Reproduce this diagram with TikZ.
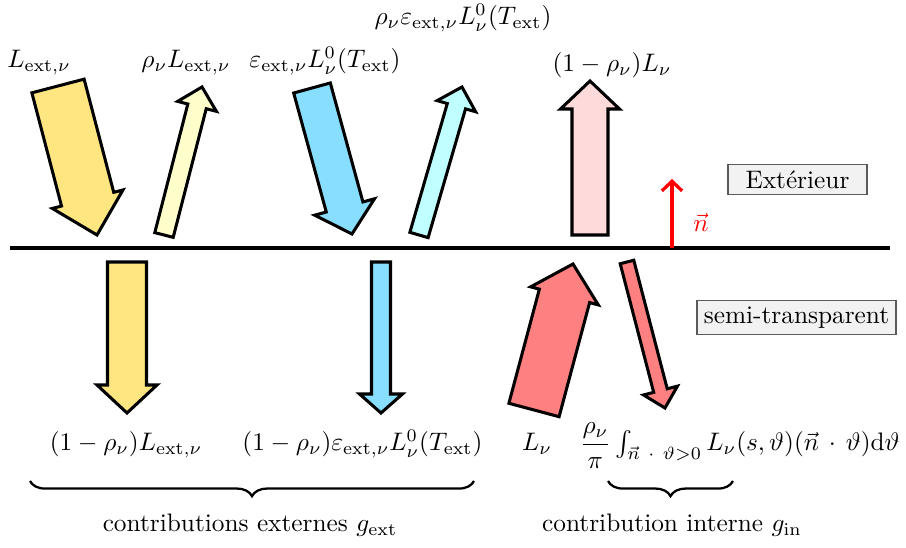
\documentclass[tikz,border=0pt]{standalone}
\usepackage{amsmath}
\usetikzlibrary{calc,decorations.pathreplacing,arrows.meta}
\definecolor{ylw}{RGB}{255,230,128}
\definecolor{pylw}{RGB}{255,255,204}
\definecolor{blu}{RGB}{135,222,255}
\definecolor{cyn}{RGB}{192,255,255}
\definecolor{pnk}{RGB}{255,218,218}
\definecolor{redf}{RGB}{255,128,128}
\definecolor{boxfill}{RGB}{242,242,242}
\definecolor{boxline}{RGB}{90,90,90}
\tikzset{
  bigarrow/.style={draw=black,line width=1.2pt,line join=miter,miter limit=10},
  lbl/.style={anchor=base,inner sep=0pt},
  lbox/.style={draw=boxline,fill=boxfill,line width=0.5pt,inner sep=0pt},
  brc/.style={decorate,decoration={brace,mirror,amplitude=6pt},line width=0.9pt}
}
\newcommand\fatarr[6]{%
  \pgfmathsetmacro\fas{#3*0.1975}%
  \pgfmathsetmacro\fah{#4*0.1975}%
  \pgfmathsetmacro\fal{#5*0.395}%
  \coordinate (fH) at ($(#2)!\fal pt!(#1)$);
  \draw[bigarrow,fill=#6] ($(#1)!\fas pt!90:(#2)$) -- ($(fH)!\fas pt!90:(#2)$) -- ($(fH)!\fah pt!90:(#2)$) -- (#2) -- ($(fH)!\fah pt!-90:(#2)$) -- ($(fH)!\fas pt!-90:(#2)$) -- ($(#1)!\fas pt!-90:(#2)$) -- cycle;
}
\begin{document}
\begin{tikzpicture}[x=0.395pt,y=-0.395pt]
\useasboundingbox (0,0) rectangle (906,548);
% interface
\coordinate (il) at (10,248);
\coordinate (ir) at (890,248);
\draw[line width=1.2pt] (il) -- (ir);
% arrows above
\coordinate (a1t) at (58,86);   \coordinate (a1h) at (97,235);
\coordinate (a2t) at (164,235); \coordinate (a2h) at (202,87);
\coordinate (a3t) at (312,88);  \coordinate (a3h) at (352,234);
\coordinate (a4t) at (419,235); \coordinate (a4h) at (462,87);
\coordinate (a5t) at (590,235); \coordinate (a5h) at (590,81);
\fatarr{a1t}{a1h}{54}{73}{37}{ylw}
\fatarr{a2t}{a2h}{19}{40}{20}{pylw}
\fatarr{a3t}{a3h}{38}{62}{28}{blu}
\fatarr{a4t}{a4h}{19}{40}{20}{cyn}
\fatarr{a5t}{a5h}{36}{59}{28}{pnk}
% arrows below
\coordinate (b1t) at (127,262); \coordinate (b1h) at (127,413);
\coordinate (b2t) at (381,262); \coordinate (b2h) at (381,413);
\coordinate (b3t) at (534,410); \coordinate (b3h) at (573,264);
\coordinate (b4t) at (627,262); \coordinate (b4h) at (665,408);
\fatarr{b1t}{b1h}{39}{60}{28}{ylw}
\fatarr{b2t}{b2h}{19}{43}{19}{blu}
\fatarr{b3t}{b3h}{52}{70}{33}{redf}
\fatarr{b4t}{b4h}{14}{35}{18}{redf}
% normal
\coordinate (nb) at (672,248);
\coordinate (nt) at (672,179);
\draw[red,line width=1.3pt,-{Straight Barb[length=3.8pt,width=8pt]}] (nb) -- (nt);
\node[red,inner sep=0pt] (nlab) at (701,222) {$\vec{n}$};
% boxes
\node[lbox,minimum width=54.9pt,minimum height=11.6pt] (ext) at (797.5,179.5) {Extérieur};
\node[lbox,minimum width=78.6pt,minimum height=13.4pt] (semi) at (796.5,317.5) {semi-transparent};
% top labels
\node[lbl] (t1) at (39,68) {$L_{\mathrm{ext},\nu}$};
\node[lbl] (t2) at (186,68) {$\rho_\nu L_{\mathrm{ext},\nu}$};
\node[lbl] (t3) at (325,68) {$\varepsilon_{\mathrm{ext},\nu}L^0_\nu(T_{\mathrm{ext}})$};
\node[lbl] (t4) at (463,25) {$\rho_\nu\varepsilon_{\mathrm{ext},\nu}L^0_\nu(T_{\mathrm{ext}})$};
\node[lbl] (t5) at (612,72) {$(1-\rho_\nu)L_\nu$};
% bottom labels
\node[lbl] (u1) at (126,451) {$(1-\rho_\nu)L_{\mathrm{ext},\nu}$};
\node[lbl] (u2) at (362.5,451) {$(1-\rho_\nu)\varepsilon_{\mathrm{ext},\nu}L^0_\nu(T_{\mathrm{ext}})$};
\node[lbl] (u3) at (537,451) {$L_\nu$};
\node[lbl,anchor=base west] (u4) at (579,451) {$\dfrac{\rho_\nu}{\pi}\int_{\vec{n}\ \cdot\ \vartheta>0} L_\nu(s,\vartheta)(\vec{n}\,\cdot\,\vartheta)\mathrm{d}\vartheta$};
% braces
\coordinate (bl1) at (30,481);  \coordinate (br1) at (474,481);
\coordinate (bl2) at (608,481); \coordinate (br2) at (733,481);
\draw[brc] (bl1) -- (br1);
\draw[brc] (bl2) -- (br2);
\node[lbl] (c1) at (250,532) {contributions externes $g_{\mathrm{ext}}$};
\node[lbl] (c2) at (672,532) {contribution interne $g_{\mathrm{in}}$};
\end{tikzpicture}
\end{document}
